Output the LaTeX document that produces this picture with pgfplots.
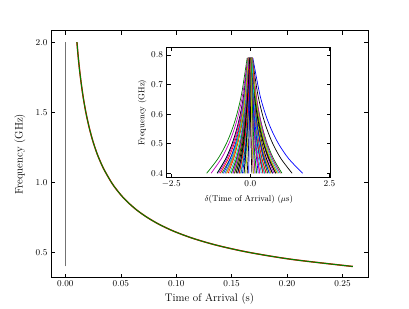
\documentclass[border=0pt]{standalone}
\usepackage{pgfplots}
\pgfplotsset{compat=1.18}
\usepackage{pgfplotstable}

\definecolor{mplblue}{rgb}{0,0,1}
\definecolor{mplgreen}{rgb}{0,0.5,0}
\definecolor{mplred}{rgb}{1,0,0}
\definecolor{mplcyan}{rgb}{0,0.75,0.75}
\definecolor{mplmag}{rgb}{0.75,0,0.75}
\definecolor{mplyel}{rgb}{0.75,0.75,0}

% main dispersion curve: frequency (GHz) vs time of arrival (s)
\pgfplotstableread{
t f
0.0104 2.00
0.0115 1.90
0.0128 1.80
0.01436 1.70
0.0162 1.60
0.01844 1.50
0.0212 1.40
0.02456 1.30
0.0288 1.20
0.0343 1.10
0.0415 1.00
0.0460 0.95
0.0512 0.90
0.05744 0.85
0.0648 0.80
0.0738 0.75
0.0847 0.70
0.0982 0.65
0.1153 0.60
0.1372 0.55
0.1660 0.50
0.2049 0.45
0.2594 0.40
}\maincurve

% inset: residual time of arrival (us), rows = frequency (GHz), one column per realisation
\pgfplotstableread{
f l1 l2 l3 l4 l5 l6 l7 l8 l9 l10 l11 l12 l13 l14 l15 l16 l17 l18 l19 l20 l21 l22 l23 l24 l25 l26 l27 l28 l29 l30 l31 l32 l33 l34 l35
0.40 1.65 -1.38 0.85 -1.05 -1.24 0.95 1.32 0.70 1.00 -0.75 0.60 -0.80 -0.60 -1.05 -0.40 0.45 0.30 -0.20 0.75 0.20 -0.30 -0.55 -0.90 -0.50 0.90 0.10 0.55 0.05 0.40 -0.35 0.65 -0.65 0.50 -0.15 -0.10
0.45 1.207 -1.019 0.616 -0.768 -0.913 0.691 0.965 0.497 0.729 -0.555 0.451 -0.574 -0.442 -0.774 -0.284 0.315 0.230 -0.146 0.555 0.144 -0.210 -0.409 -0.638 -0.365 0.657 0.063 0.409 0.033 0.296 -0.268 0.470 -0.478 0.365 -0.113 -0.072
0.50 0.890 -0.760 0.448 -0.566 -0.679 0.505 0.710 0.352 0.535 -0.416 0.343 -0.413 -0.329 -0.576 -0.202 0.218 0.179 -0.108 0.416 0.103 -0.145 -0.308 -0.450 -0.268 0.484 0.037 0.308 0.021 0.221 -0.210 0.340 -0.355 0.268 -0.087 -0.052
0.55 0.656 -0.570 0.325 -0.417 -0.506 0.368 0.522 0.244 0.392 -0.313 0.265 -0.294 -0.246 -0.430 -0.140 0.146 0.142 -0.080 0.313 0.073 -0.097 -0.234 -0.311 -0.196 0.356 0.018 0.234 0.012 0.166 -0.166 0.245 -0.264 0.196 -0.068 -0.037
0.60 0.477 -0.424 0.230 -0.303 -0.373 0.263 0.379 0.162 0.283 -0.235 0.204 -0.202 -0.182 -0.318 -0.094 0.091 0.113 -0.058 0.235 0.051 -0.061 -0.177 -0.205 -0.141 0.258 0.003 0.177 0.005 0.124 -0.133 0.172 -0.194 0.141 -0.053 -0.025
0.67 0.292 -0.273 0.132 -0.185 -0.237 0.154 0.230 0.077 0.170 -0.153 0.142 -0.108 -0.116 -0.202 -0.045 0.035 0.084 -0.036 0.153 0.027 -0.023 -0.118 -0.096 -0.085 0.156 -0.012 0.118 -0.002 0.080 -0.099 0.096 -0.122 0.085 -0.038 -0.014
0.79 0.08 -0.10 0.02 -0.05 -0.08 0.03 0.06 -0.02 0.04 -0.06 0.07 0 -0.04 -0.07 0.01 -0.03 0.05 -0.01 0.06 0 0.02 -0.05 0.03 -0.02 0.04 -0.03 0.05 -0.01 0.03 -0.06 0.01 -0.04 0.02 -0.02 0
}\insettab

\pgfplotstableread{
f m36 m37 m38 m39 m40 m41 m42 m43 m44 m45 m46 m47 m48 m49 m50 m51 m52 m53 m54 m55 m56 m57 m58 m59 m60 m61 m62 m63 m64 m65 m66 m67 m68 m69 m70
0.40 -0.85 0.80 -0.95 0.35 0.95 -0.45 0.70 -0.25 0.55 -0.70 0.15 -1.00 0.65 -0.40 0.25 -0.60 0.50 -0.80 0.30 0.85 -0.20 0.60 -0.50 0.40 -0.30 0.15 -0.75 0.80 -0.05 0.20 -0.35 0.45 -0.55 0.10 -0.45
0.45 -0.630 0.589 -0.693 0.257 0.699 -0.337 0.511 -0.182 0.415 -0.525 0.111 -0.735 0.478 -0.296 0.196 -0.436 0.367 -0.594 0.215 0.624 -0.158 0.436 -0.370 0.307 -0.221 0.119 -0.555 0.577 -0.044 0.152 -0.254 0.337 -0.406 0.077 -0.329
0.50 -0.472 0.437 -0.510 0.190 0.519 -0.256 0.376 -0.134 0.318 -0.400 0.082 -0.545 0.355 -0.221 0.158 -0.319 0.273 -0.447 0.155 0.463 -0.127 0.319 -0.277 0.240 -0.164 0.097 -0.416 0.418 -0.040 0.118 -0.185 0.256 -0.303 0.061 -0.242
0.55 -0.356 0.325 -0.374 0.141 0.387 -0.197 0.276 -0.098 0.246 -0.308 0.061 -0.405 0.264 -0.166 0.130 -0.233 0.202 -0.338 0.110 0.344 -0.105 0.233 -0.209 0.191 -0.123 0.080 -0.313 0.300 -0.037 0.092 -0.135 0.197 -0.227 0.049 -0.178
0.60 -0.267 0.240 -0.270 0.103 0.285 -0.151 0.200 -0.071 0.191 -0.237 0.045 -0.298 0.194 -0.124 0.108 -0.167 0.149 -0.255 0.076 0.252 -0.088 0.167 -0.156 0.153 -0.091 0.068 -0.235 0.210 -0.035 0.073 -0.096 0.151 -0.169 0.040 -0.129
0.67 -0.175 0.151 -0.163 0.065 0.180 -0.104 0.120 -0.042 0.135 -0.164 0.029 -0.187 0.122 -0.080 0.086 -0.098 0.093 -0.169 0.041 0.158 -0.070 0.098 -0.102 0.115 -0.058 0.055 -0.153 0.117 -0.033 0.053 -0.056 0.104 -0.109 0.031 -0.078
0.79 -0.07 0.05 -0.04 0.02 0.06 -0.05 0.03 -0.01 0.07 -0.08 0.01 -0.06 0.04 -0.03 0.06 -0.02 0.03 -0.07 0 0.05 -0.05 0.02 -0.04 0.07 -0.02 0.04 -0.06 0.01 -0.03 0.03 -0.01 0.05 -0.04 0.02 -0.02
}\insettabB

\begin{document}
\begin{tikzpicture}
\useasboundingbox (0,0) rectangle (409bp,309bp);
\pgfplotsset{
  mplstyle/.style={
    scale only axis,
    anchor=south west,
    axis line style={line width=1bp},
    tick align=inside,
    major tick length=4bp,
    tick style={black, line width=0.6bp},
    minor tick num=0,
  }
}
\begin{axis}[mplstyle,
  at={(51bp,31.3bp)},
  width=317bp, height=246.7bp,
  xmin=-0.013, xmax=0.273, ymin=0.32, ymax=2.08,
  xtick={0,0.05,0.10,0.15,0.20,0.25},
  ytick={0.5,1.0,1.5,2.0},
  xticklabel={\pgfmathprintnumber[fixed,fixed zerofill,precision=2]{\tick}},
  yticklabel={\pgfmathprintnumber[fixed,fixed zerofill,precision=1]{\tick}},
  scaled x ticks=false,
  ticklabel style={font=\fontsize{9.5}{11}\selectfont},
  xlabel={Time of Arrival (s)},
  ylabel={Frequency (GHz)},
  label style={font=\fontsize{11}{13}\selectfont},
  xlabel style={at={(axis description cs:0.5,-0.085)}, anchor=center},
  ylabel style={at={(axis description cs:-0.098,0.5)}, anchor=center},
]
\addplot[black!55, line width=1.1bp] coordinates {(0,0.4) (0,2.0)};
\addplot[mplred, line width=1.4bp, smooth] table[x=t, y=f]{\maincurve};
\addplot[mplgreen, line width=1.05bp, smooth] table[x=t, y=f]{\maincurve};
\end{axis}

\begin{axis}[mplstyle,
  at={(166.5bp,131.3bp)},
  width=164.5bp, height=130.4bp,
  axis background/.style={fill=white},
  xmin=-2.65, xmax=2.55, ymin=0.385, ymax=0.826,
  xtick={-2.5,0,2.5},
  ytick={0.4,0.5,0.6,0.7,0.8},
  xticklabel={\pgfmathprintnumber[fixed,fixed zerofill,precision=1]{\tick}},
  yticklabel={\pgfmathprintnumber[fixed,fixed zerofill,precision=1]{\tick}},
  ticklabel style={font=\fontsize{9}{10}\selectfont},
  xlabel={$\delta$(Time of Arrival) ($\mu$s)},
  ylabel={Frequency (GHz)},
  label style={font=\fontsize{8.5}{10}\selectfont},
  xlabel style={at={(axis description cs:0.5,-0.166)}, anchor=center},
  ylabel style={at={(axis description cs:-0.147,0.5)}, anchor=center},
  cycle list={
    {mplblue, line width=0.7bp},
    {mplgreen, line width=0.7bp},
    {mplred, line width=0.7bp},
    {mplcyan, line width=0.7bp},
    {mplmag, line width=0.7bp},
    {mplyel, line width=0.7bp},
    {black, line width=0.7bp}
  },
  no markers,
]
\pgfplotsinvokeforeach{1,...,35}{
  \addplot+[smooth] table[x index=#1, y index=0]{\insettab};
}
\pgfplotsinvokeforeach{1,...,35}{
  \addplot+[smooth] table[x index=#1, y index=0]{\insettabB};
}
\end{axis}
\end{tikzpicture}
\end{document}
